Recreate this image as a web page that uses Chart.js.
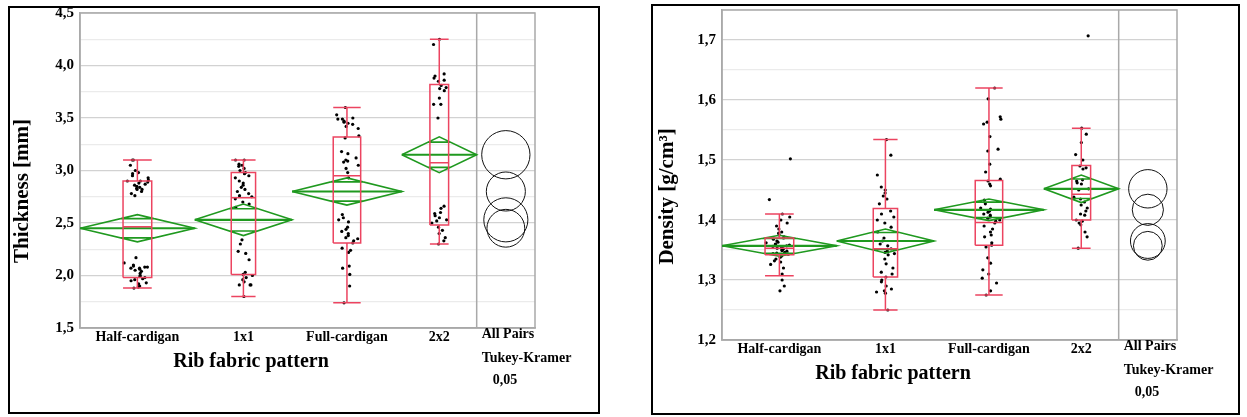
<!DOCTYPE html>
<html>
<head>
<meta charset="utf-8">
<script src="https://cdn.jsdelivr.net/npm/chart.js@4.4.1/dist/chart.umd.min.js"></script>
<style>
    body { margin: 0; background: #fff; width: 1247px; height: 417px; position: relative; overflow: hidden; }
    .panel { position: absolute; border: 2px solid #000; box-sizing: border-box; background: #fff; }
    #p1 { left: 8px; top: 6px; width: 592px; height: 408px; }
    #p2 { left: 651px; top: 4px; width: 589px; height: 411px; }
    canvas { position: absolute; left: 0; top: 0; }
</style>
</head>
<body>
<div class="panel" id="p1"><canvas id="thickChart" width="588" height="404"></canvas></div>
<div class="panel" id="p2"><canvas id="densChart" width="585" height="407"></canvas></div>
<script>
const patterns = ["Half-cardigan", "1x1", "Full-cardigan", "2x2"];

// Thickness [mm], raw points per pattern
const thickHalf = [3.10, 3.10, 3.05, 3.00, 2.98, 2.97, 2.95, 2.93, 2.91, 2.90, 2.90, 2.89, 2.88, 2.87, 2.86, 2.85, 2.84, 2.83, 2.82, 2.82, 2.80, 2.78, 2.76,
    2.17, 2.12, 2.10, 2.09, 2.08, 2.08, 2.07, 2.07, 2.06, 2.05, 2.04, 2.02, 2.00, 1.99, 1.98, 1.97, 1.96, 1.95, 1.93, 1.92, 1.90, 1.89, 1.88];
const thick1x1 = [3.10, 3.10, 3.06, 3.05, 3.04, 3.02, 3.00, 2.98, 2.97, 2.95, 2.93, 2.90, 2.88, 2.86, 2.84, 2.82, 2.80, 2.78, 2.76, 2.75, 2.73, 2.70, 2.68, 2.65,
    2.34, 2.30, 2.23, 2.21, 2.15, 2.03, 2.01, 2.00, 1.98, 1.96, 1.94, 1.91, 1.91, 1.91, 1.80];
const thickFull = [3.60, 3.53, 3.50, 3.49, 3.49, 3.47, 3.46, 3.45, 3.44, 3.42, 3.40, 3.33, 3.31, 3.18, 3.16, 3.12, 3.10, 3.09, 3.08, 3.05, 3.02, 2.98, 2.93,
    2.58, 2.55, 2.53, 2.51, 2.46, 2.44, 2.42, 2.40, 2.38, 2.36, 2.35, 2.33, 2.31, 2.26, 2.24, 2.22, 2.09, 2.07, 2.01, 1.90, 1.74];
const thick2x2 = [4.25, 4.20, 3.92, 3.90, 3.88, 3.86, 3.85, 3.81, 3.79, 3.78, 3.76, 3.69, 3.63, 3.63, 3.50,
    2.66, 2.64, 2.60, 2.59, 2.57, 2.55, 2.53, 2.52, 2.50, 2.46, 2.43, 2.40, 2.36, 2.33, 2.30];

const thickQ1 = [1.98, 2.01, 2.31, 2.48];
const thickMedian = [2.465, 2.74, 2.95, 3.075];
const thickQ3 = [2.90, 2.98, 3.32, 3.82];
const thickLow = [1.88, 1.80, 1.74, 2.30];
const thickHigh = [3.10, 3.10, 3.60, 4.25];
const thickMean = [2.45, 2.53, 2.80, 3.15];
const thickCI = [0.13, 0.15, 0.13, 0.17];
const thickCircle = [0.18, 0.21, 0.186, 0.23];

// Density [g/cm3], raw points per pattern
const densHalf = [1.502, 1.434, 1.41, 1.405, 1.40, 1.395, 1.39, 1.385, 1.38, 1.378, 1.375, 1.372, 1.37, 1.368, 1.365, 1.363, 1.362, 1.36, 1.359, 1.358,
    1.357, 1.356, 1.355, 1.354, 1.353, 1.352, 1.351, 1.35, 1.349, 1.348, 1.346, 1.345, 1.344, 1.343, 1.342, 1.34, 1.338, 1.335, 1.332, 1.33,
    1.326, 1.32, 1.31, 1.30, 1.29, 1.282];
const dens1x1 = [1.534, 1.508, 1.475, 1.455, 1.45, 1.445, 1.44, 1.435, 1.427, 1.415, 1.41, 1.405, 1.40, 1.395, 1.388, 1.38, 1.37, 1.365, 1.36, 1.357,
    1.352, 1.348, 1.346, 1.344, 1.342, 1.335, 1.327, 1.32, 1.313, 1.31, 1.305, 1.30, 1.297, 1.29, 1.285, 1.282, 1.28, 1.278, 1.25];
const densFull = [1.62, 1.602, 1.572, 1.568, 1.563, 1.56, 1.539, 1.518, 1.515, 1.493, 1.48, 1.468, 1.465, 1.46, 1.457, 1.433, 1.427, 1.42, 1.418, 1.415,
    1.413, 1.41, 1.408, 1.405, 1.403, 1.40, 1.398, 1.395, 1.39, 1.385, 1.38, 1.375, 1.372, 1.362, 1.358, 1.355, 1.337, 1.328, 1.317, 1.31,
    1.303, 1.295, 1.282, 1.275];
const dens2x2 = [1.707, 1.553, 1.543, 1.529, 1.509, 1.50, 1.49, 1.487, 1.485, 1.467, 1.465, 1.462, 1.46, 1.452, 1.45, 1.438, 1.435, 1.43, 1.425, 1.42,
    1.415, 1.41, 1.408, 1.40, 1.398, 1.395, 1.392, 1.38, 1.372, 1.353];

const densQ1 = [1.342, 1.305, 1.358, 1.40];
const densMedian = [1.353, 1.352, 1.396, 1.443];
const densQ3 = [1.370, 1.419, 1.466, 1.491];
const densLow = [1.307, 1.25, 1.275, 1.353];
const densHigh = [1.41, 1.534, 1.62, 1.553];
const densMean = [1.357, 1.365, 1.417, 1.452];
const densCI = [0.0175, 0.02, 0.018, 0.023];
const densCircle = [0.024, 0.029, 0.026, 0.032];

const thickTicks = { min: 1.5, max: 4.5, step: 0.25, major: 0.5 };
const densTicks = { min: 1.2, max: 1.75, step: 0.05, major: 0.1 };

const serif = "'Liberation Serif', 'Times New Roman', serif";
const RED = "#ec4460";
const GREEN = "#1f991f";
const FRAME = "#a9a9a9";

// cheap hash, used only to scatter dots sideways
function hash(n) {
    const s = Math.sin(n * 12.9898) * 43758.5453;
    return s - Math.floor(s);
}

const decor = {
    id: "decor",
    beforeDatasetsDraw(chart, args, o) {
        const ctx = chart.ctx;
        const a = chart.chartArea;
        const sep = chart.scales.x.getPixelForValue(o.total);
        ctx.save();
        ctx.strokeStyle = FRAME;
        ctx.lineWidth = 1.5;
        ctx.strokeRect(a.left, a.top, a.right - a.left, a.bottom - a.top);
        ctx.beginPath();
        ctx.moveTo(sep, a.top);
        ctx.lineTo(sep, a.bottom);
        ctx.stroke();
        ctx.restore();
    },
    afterDatasetsDraw(chart, args, o) {
        const ctx = chart.ctx;
        const x = chart.scales.x;
        const y = chart.scales.y;
        const cx = x.getPixelForValue(o.circleX);
        ctx.save();
        ctx.strokeStyle = "#111";
        ctx.lineWidth = 1;
        o.means.forEach(function (m, i) {
            const cy = y.getPixelForValue(m);
            const r = Math.abs(y.getPixelForValue(m - o.radii[i]) - cy);
            ctx.beginPath();
            ctx.arc(cx, cy, r, 0, Math.PI * 2);
            ctx.stroke();
        });
        ctx.restore();
    },
    afterDraw(chart, args, o) {
        const ctx = chart.ctx;
        const a = chart.chartArea;
        const sep = chart.scales.x.getPixelForValue(o.total);
        ctx.save();
        ctx.fillStyle = "#000";
        ctx.textBaseline = "middle";

        // y title sits a bit below the plot middle, as in the original
        ctx.save();
        ctx.translate(o.titleX, a.top + (a.bottom - a.top) * 0.565);
        ctx.rotate(-Math.PI / 2);
        ctx.textAlign = "center";
        ctx.font = "bold 21px " + serif;
        ctx.fillText(o.title, 0, 0);
        ctx.restore();

        ctx.font = "bold 20px " + serif;
        ctx.textAlign = "center";
        ctx.fillText("Rib fabric pattern", a.left + 171, a.bottom + 34);
        ctx.font = "bold 14px " + serif;
        ctx.textAlign = "left";
        ctx.fillText("All Pairs", sep + 5, a.bottom + 6);
        ctx.fillText("Tukey-Kramer", sep + 5, a.bottom + 30);
        ctx.fillText("0,05", sep + 16, a.bottom + 52);
        ctx.restore();
    }
};

function buildPanel(canvasId, cfg) {
    const counts = cfg.points.map(function (p) { return p.length; });
    const total = counts.reduce(function (s, n) { return s + n; }, 0);
    const starts = [];
    let acc = 0;
    counts.forEach(function (n) { starts.push(acc); acc += n; });
    const centers = counts.map(function (n, i) { return starts[i] + n / 2; });
    const xMax = total * 1.147;

    const red = [];
    const diamond = [];
    const meanLine = [];
    const dots = [];
    const gap = { x: null, y: null };

    function seg(arr, pts) {
        pts.forEach(function (p) { arr.push(p); });
        arr.push(gap);
    }

    counts.forEach(function (n, i) {
        const c = centers[i];
        const hb = n * 0.125;
        const x0 = c - hb;
        const x1 = c + hb;
        seg(red, [{ x: x0, y: cfg.q1[i] }, { x: x1, y: cfg.q1[i] }, { x: x1, y: cfg.q3[i] }, { x: x0, y: cfg.q3[i] }, { x: x0, y: cfg.q1[i] }]);
        seg(red, [{ x: x0, y: cfg.median[i] }, { x: x1, y: cfg.median[i] }]);
        seg(red, [{ x: c, y: cfg.q3[i] }, { x: c, y: cfg.high[i] }]);
        seg(red, [{ x: x0, y: cfg.high[i] }, { x: x1, y: cfg.high[i] }]);
        seg(red, [{ x: c, y: cfg.q1[i] }, { x: c, y: cfg.low[i] }]);
        seg(red, [{ x: x0, y: cfg.low[i] }, { x: x1, y: cfg.low[i] }]);

        const s = starts[i];
        const e = s + n;
        const m = cfg.mean[i];
        const ci = cfg.ci[i];
        seg(diamond, [{ x: s, y: m }, { x: c, y: m + ci }, { x: e, y: m }, { x: c, y: m - ci }, { x: s, y: m }]);
        const d = ci / Math.SQRT2;
        const w = (n / 2) * (1 - d / ci);
        seg(diamond, [{ x: c - w, y: m + d }, { x: c + w, y: m + d }]);
        seg(diamond, [{ x: c - w, y: m - d }, { x: c + w, y: m - d }]);
        seg(meanLine, [{ x: s, y: m }, { x: e, y: m }]);

        // jitter only spreads the dots sideways, values stay as read
        cfg.points[i].forEach(function (v, k) {
            const key = i * 97 + k + cfg.seed;
            const spread = (hash(key) + hash(key + 0.5)) / 2 - 0.5;
            dots.push({ x: c + spread * 2 * hb * 0.95, y: v });
        });
    });

    const t = cfg.ticks;
    function isMajor(v) {
        const q = v / t.major;
        return Math.abs(q - Math.round(q)) < 1e-6;
    }

    const lineBase = { type: "line", showLine: true, pointRadius: 0, spanGaps: false, fill: false, tension: 0 };

    return new Chart(document.getElementById(canvasId), {
        data: {
            datasets: [
                Object.assign({ data: red, borderColor: RED, borderWidth: 1.5 }, lineBase),
                Object.assign({ data: diamond, borderColor: GREEN, borderWidth: 1.6 }, lineBase),
                Object.assign({ data: meanLine, borderColor: GREEN, borderWidth: 2.2 }, lineBase),
                { type: "scatter", data: dots, pointRadius: 1.6, pointBackgroundColor: "#000", pointBorderWidth: 0 }
            ]
        },
        options: {
            responsive: false,
            animation: false,
            devicePixelRatio: 1,
            layout: { padding: { left: 0, right: cfg.padRight, top: cfg.padTop, bottom: 0 } },
            plugins: {
                legend: { display: false },
                tooltip: { enabled: false },
                decor: {
                    total: total,
                    circleX: total + (xMax - total) / 2,
                    means: cfg.mean,
                    radii: cfg.circle,
                    title: cfg.title,
                    titleX: cfg.titleX
                }
            },
            scales: {
                x: {
                    type: "linear",
                    min: 0,
                    max: xMax,
                    grid: { display: false, drawTicks: false },
                    border: { color: FRAME, width: 1.5 },
                    afterBuildTicks: function (scale) {
                        scale.ticks = centers.map(function (v) { return { value: v }; });
                    },
                    afterFit: function (scale) {
                        scale.height = cfg.xAxisHeight;
                        scale.paddingLeft = 0;
                        scale.paddingRight = 0;
                    },
                    ticks: {
                        autoSkip: false,
                        maxRotation: 0,
                        padding: 1,
                        color: "#000",
                        font: { family: serif, size: 14, weight: "bold" },
                        callback: function (v, i) { return patterns[i]; }
                    }
                },
                y: {
                    type: "linear",
                    min: t.min,
                    max: t.max,
                    afterFit: function (scale) {
                        scale.width = cfg.yAxisWidth;
                        scale.paddingTop = 0;
                        scale.paddingBottom = 0;
                    },
                    ticks: {
                        stepSize: t.step,
                        autoSkip: false,
                        padding: 6,
                        color: "#000",
                        font: { family: serif, size: 15, weight: "bold" },
                        callback: function (v) { return isMajor(v) ? v.toFixed(1).replace(".", ",") : ""; }
                    },
                    grid: {
                        drawTicks: false,
                        lineWidth: 1.2,
                        color: function (c) { return isMajor(c.tick.value) ? "#d2d2d2" : "#ebebeb"; }
                    },
                    border: { color: FRAME, width: 1.5 },
                    title: { display: false }
                }
            }
        },
        plugins: [decor]
    });
}

buildPanel("thickChart", {
    points: [thickHalf, thick1x1, thickFull, thick2x2],
    q1: thickQ1, median: thickMedian, q3: thickQ3, low: thickLow, high: thickHigh,
    mean: thickMean, ci: thickCI, circle: thickCircle,
    ticks: thickTicks,
    title: "Thickness [mm]",
    titleX: 13,
    seed: 3,
    padTop: 5, padRight: 63, yAxisWidth: 70, xAxisHeight: 84
});

buildPanel("densChart", {
    points: [densHalf, dens1x1, densFull, dens2x2],
    q1: densQ1, median: densMedian, q3: densQ3, low: densLow, high: densHigh,
    mean: densMean, ci: densCI, circle: densCircle,
    ticks: densTicks,
    title: "Density [g/cm\u00b3]",
    titleX: 15,
    seed: 11,
    padTop: 4, padRight: 61, yAxisWidth: 69, xAxisHeight: 73
});
</script>
</body>
</html>
